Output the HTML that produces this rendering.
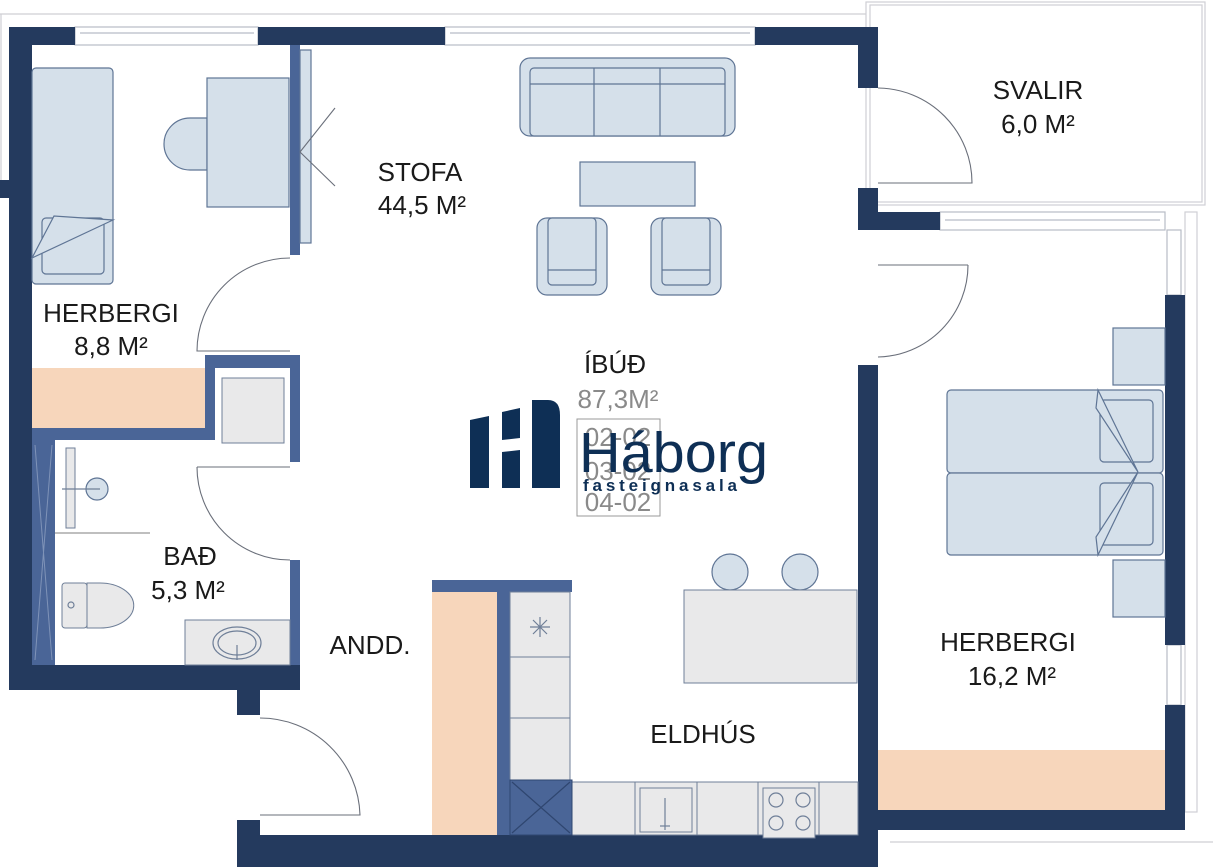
<!DOCTYPE html>
<html><head><meta charset="utf-8"><style>
html,body{margin:0;padding:0;background:#fff;}
svg{display:block;}
text{font-family:"Liberation Sans",sans-serif;}
</style></head><body>
<svg width="1213" height="867" viewBox="0 0 1213 867" xmlns="http://www.w3.org/2000/svg">
<rect width="1213" height="867" fill="#fff"/>
<g fill="none" stroke="#cfcfd4" stroke-width="1.2">
<line x1="0" y1="14" x2="866" y2="14"/>
<line x1="1" y1="14" x2="1" y2="180"/>
<rect x="866" y="2" width="339" height="203"/>
<rect x="870" y="5" width="332" height="197"/>
<rect x="1185" y="212" width="12" height="600"/>
<line x1="890" y1="842" x2="1213" y2="842"/>
</g>
<rect x="0" y="180" width="9" height="18" fill="#243a5e"/>
<g fill="#fff" stroke="#b8bcc6" stroke-width="1.2">
<rect x="75" y="27" width="183" height="18"/><line x1="80" y1="33" x2="254" y2="33"/>
<rect x="445" y="27" width="310" height="18"/><line x1="450" y1="33" x2="750" y2="33"/>
<rect x="940" y="212" width="225" height="18"/><line x1="945" y1="220" x2="1160" y2="220"/>
<rect x="1167" y="230" width="14" height="65"/>
<rect x="1167" y="645" width="14" height="60"/>
</g>
<g fill="#243a5e">
<rect x="9" y="27" width="23" height="663"/>
<rect x="9" y="27" width="66" height="18"/>
<rect x="258" y="27" width="187" height="18"/>
<rect x="755" y="27" width="123" height="18"/>
<rect x="858" y="27" width="20" height="61"/>
<rect x="858" y="188" width="20" height="42"/>
<rect x="858" y="212" width="82" height="18"/>
<rect x="858" y="365" width="20" height="502"/>
<rect x="1165" y="295" width="20" height="350"/>
<rect x="1165" y="705" width="20" height="125"/>
<rect x="858" y="810" width="327" height="20"/>
<rect x="9" y="665" width="291" height="25"/>
<rect x="237" y="690" width="23" height="25"/>
<rect x="237" y="820" width="23" height="47"/>
<rect x="237" y="835" width="641" height="32"/>
</g>
<g fill="#4a6597">
<rect x="290" y="45" width="10" height="210"/>
<rect x="290" y="355" width="10" height="107"/>
<rect x="205" y="355" width="95" height="13"/>
<rect x="205" y="355" width="10" height="85"/>
<rect x="32" y="428" width="183" height="12"/>
<rect x="290" y="560" width="10" height="105"/>
<rect x="432" y="580" width="140" height="12"/>
<rect x="497" y="580" width="13" height="255"/>
<rect x="32" y="440" width="23" height="225"/>
</g>
<g stroke="#7f93b8" stroke-width="1" fill="none"><line x1="35" y1="445" x2="52" y2="660"/><line x1="52" y1="445" x2="35" y2="660"/></g>
<g fill="#f7d6bb">
<rect x="32" y="368" width="173" height="60"/>
<rect x="432" y="592" width="65" height="243"/>
<rect x="878" y="750" width="287" height="60"/>
</g>
<g fill="#d5e0ea" stroke="#5f7595" stroke-width="1.2">
<rect x="300" y="50" width="11" height="193"/>
<rect x="32" y="68" width="81" height="216" rx="4"/>
<rect x="42" y="218" width="62" height="56" rx="4"/>
<path d="M32 258 L54 216 L113 220 Z"/>
<path d="M207 118 L190 118 A26 26 0 0 0 190 170 L207 170 Z"/>
<rect x="207" y="78" width="82" height="129"/>
<rect x="520" y="58" width="215" height="78" rx="10"/>
<rect x="530" y="68" width="195" height="68" rx="4"/>
<line x1="594" y1="68" x2="594" y2="136"/><line x1="660" y1="68" x2="660" y2="136"/>
<line x1="530" y1="84" x2="725" y2="84"/>
<rect x="580" y="162" width="115" height="44"/>
<rect x="537" y="218" width="70" height="77" rx="10"/>
<rect x="548" y="218" width="48" height="67" rx="4"/>
<line x1="548" y1="270" x2="596" y2="270"/>
<rect x="651" y="218" width="70" height="77" rx="10"/>
<rect x="662" y="218" width="48" height="67" rx="4"/>
<line x1="662" y1="270" x2="710" y2="270"/>
<rect x="1113" y="328" width="52" height="57"/>
<rect x="1113" y="560" width="52" height="57"/>
<rect x="947" y="390" width="216" height="83" rx="4"/>
<rect x="947" y="473" width="216" height="82" rx="4"/>
<rect x="1100" y="400" width="53" height="62" rx="4"/>
<rect x="1100" y="483" width="53" height="62" rx="4"/>
<path d="M1098 390 L1138 472 L1096 408 Z M1098 555 L1138 472 L1096 537 Z"/>
<circle cx="730" cy="572" r="18"/><circle cx="800" cy="572" r="18"/>
<circle cx="97" cy="489" r="11"/>
</g>
<g fill="#e9e9ea" stroke="#6f7f98" stroke-width="1">
<rect x="222" y="378" width="62" height="65"/>
<rect x="510" y="592" width="60" height="65"/><rect x="510" y="657" width="60" height="61"/><rect x="510" y="718" width="60" height="62"/>
<rect x="572" y="782" width="63" height="53"/><rect x="635" y="782" width="62" height="53"/><rect x="697" y="782" width="61" height="53"/><rect x="758" y="782" width="61" height="53"/><rect x="819" y="782" width="39" height="53"/>
<rect x="640" y="788" width="52" height="44"/>
<rect x="763" y="788" width="52" height="50"/>
<rect x="684" y="590" width="173" height="93"/>
<rect x="185" y="620" width="105" height="45"/>
<rect x="62" y="583" width="25" height="45" rx="3"/>
<path d="M87 583 L100 583 A33 22 0 0 1 100 628 L87 628 Z"/>
<rect x="66" y="448" width="9" height="80"/>
</g>
<rect x="510" y="780" width="62" height="55" fill="#4a6597" stroke="#2f4670"/>
<path d="M512 782 L570 833 M570 782 L512 833" stroke="#2f4670" stroke-width="1.2"/>
<g fill="none" stroke="#6f7f98" stroke-width="1.2">
<circle cx="776" cy="800" r="7"/><circle cx="803" cy="800" r="7"/><circle cx="776" cy="823" r="7"/><circle cx="803" cy="823" r="7"/>
<line x1="665" y1="798" x2="665" y2="830"/><line x1="660" y1="826" x2="670" y2="826"/>
<ellipse cx="237" cy="643" rx="24" ry="16"/><ellipse cx="237" cy="643" rx="19" ry="12"/>
<line x1="237" y1="645" x2="237" y2="660"/>
<line x1="62" y1="489" x2="100" y2="489"/>
<circle cx="71" cy="605" r="3"/>
<line x1="55" y1="533" x2="150" y2="533" stroke="#999"/>
<path d="M530 627 h20 M540 617 v20 M533 620 l14 14 M547 620 l-14 14"/>
</g>
<g fill="none" stroke="#6a6f7a" stroke-width="1.1">
<path d="M290 258 A93 93 0 0 0 197 351 L290 351"/>
<path d="M197 467 A93 93 0 0 0 290 560"/><line x1="197" y1="467" x2="290" y2="467"/>
<path d="M260 718 A100 100 0 0 1 360 815 L260 815"/>
<path d="M878 88 A95 95 0 0 1 972 183 L878 183"/>
<path d="M968 265 A92 92 0 0 1 878 357"/><line x1="878" y1="265" x2="968" y2="265"/>
<line x1="300" y1="152" x2="335" y2="108"/><line x1="300" y1="152" x2="335" y2="186"/>
</g>
<g fill="#1a1a1a" font-size="26" text-anchor="middle">
<text x="420" y="181">STOFA</text><text x="422" y="214">44,5 M²</text>
<text x="111" y="322">HERBERGI</text><text x="111" y="355">8,8 M²</text>
<text x="190" y="565">BAÐ</text><text x="188" y="599">5,3 M²</text>
<text x="370" y="654">ANDD.</text>
<text x="703" y="743">ELDHÚS</text>
<text x="1008" y="651">HERBERGI</text><text x="1012" y="685">16,2 M²</text>
<text x="1038" y="99">SVALIR</text><text x="1038" y="133">6,0 M²</text>
<text x="615" y="373">ÍBÚÐ</text>
</g>
<g fill="#8a8a8a" font-size="26" text-anchor="middle">
<text x="618" y="408">87,3M²</text>
<text x="618" y="446">02-02</text><text x="618" y="480">03-02</text><text x="618" y="511">04-02</text>
</g>
<rect x="577" y="419" width="83" height="97" fill="none" stroke="#999" stroke-width="1"/>
<g fill="#0e2f55">
<path d="M470 420 L489 416 L489 488 L470 488 Z"/>
<path d="M502 412 L520 408 L520 438 L502 440 Z M502 452 L520 450 L520 488 L502 488 Z"/>
<path d="M532 400 L548 400 Q560 400 560 415 L560 488 L532 488 Z"/>
</g>
<text x="579" y="472" font-size="57" fill="#0e2f55" textLength="189" lengthAdjust="spacingAndGlyphs">Háborg</text>
<text x="583" y="491" font-size="17" fill="#0e2f55" font-weight="bold" textLength="154" lengthAdjust="spacing">fasteignasala</text>
</svg>
</body></html>
